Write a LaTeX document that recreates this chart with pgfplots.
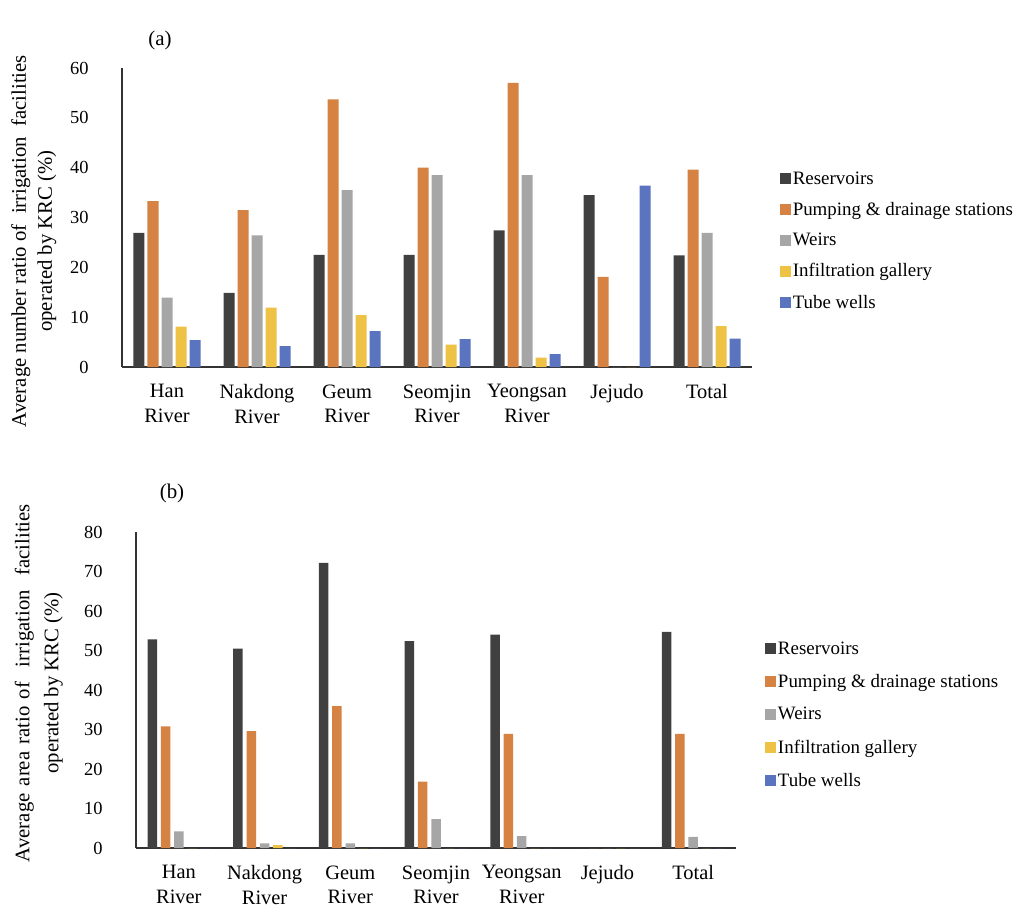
\documentclass[border=0pt]{standalone}
\usepackage{fontspec}
\setmainfont{Liberation Serif}
\usepackage{pgfplots}
\pgfplotsset{compat=1.18}
\definecolor{cRes}{RGB}{64,64,64}
\definecolor{cPump}{RGB}{213,130,66}
\definecolor{cWeir}{RGB}{166,166,166}
\definecolor{cInf}{RGB}{237,194,69}
\definecolor{cTube}{RGB}{91,116,191}
\pgfplotsset{
 myaxis/.style={
  scale only axis,
  axis x line*=bottom, axis y line*=left,
  axis line style={line width=1.4bp, black!80},
  xmin=-0.5, xmax=6.5, ymin=0,
  xtick={0,...,6},
  xticklabels={{Han\\River},{Nakdong\\River},{Geum\\River},{Seomjin\\River},{Yeongsan\\River},{Jejudo},{Total}},
  xticklabel style={align=center, font=\fontsize{20.5}{24.5}\selectfont, anchor=north, yshift=-14bp},
  yticklabel style={font=\fontsize{18.5}{22}\selectfont, anchor=east, xshift=-30bp},
  major tick length=0pt,
  /pgf/number format/assume math mode=true,
  legend style={draw=none, fill=none, font=\fontsize{19}{22}\selectfont, anchor=west, legend cell align=left},
  legend image code/.code={\fill[##1, draw=none] (0bp,-5.5bp) rectangle (11bp,5.5bp);},
  every axis plot/.append style={draw=none},
  ylabel style={align=center, anchor=center},
 }
}
\pgfplotstableread{
x Res Pump Weir Inf Tube
0 26.9 33.3 13.9 8.1 5.4
1 14.9 31.5 26.4 11.9 4.2
2 22.5 53.7 35.5 10.4 7.2
3 22.5 40.0 38.5 4.5 5.6
4 27.4 57.0 38.5 1.9 2.6
5 34.5 18.1 0 0 36.4
6 22.4 39.6 26.9 8.2 5.7
}\tabA
\pgfplotstableread{
x Res Pump Weir Inf Tube
0 52.8 30.8 4.2 0 0
1 50.5 29.6 1.2 0.7 0
2 72.2 35.9 1.2 0 0
3 52.4 16.8 7.3 0 0
4 54.0 28.9 3.0 0 0
5 0 0 0 0 0
6 54.7 28.9 2.8 0 0
}\tabB
\begin{document}
\begin{tikzpicture}
\path[use as bounding box] (0,0) rectangle (1028bp,-919bp);
\node[font=\fontsize{21}{24}\selectfont] at (160bp,-40bp) {(a)};
\node[font=\fontsize{21}{24}\selectfont] at (172bp,-493bp) {(b)};
\begin{axis}[ybar=3bp, bar width=11bp, myaxis,
  at={(122bp,-367bp)}, anchor=south west,
  width=630bp, height=299bp, ymax=60, ytick={0,10,...,60},
  ylabel={Average number ratio of\ \ irrigation\ \ facilities\\operated by KRC (\%)},
  ylabel style={font=\fontsize{20.8}{26}\selectfont, at={(rel axis cs:-0.140,0.421)}},
  legend style={at={(rel axis cs:1.039,0.423)}, row sep=12.5bp},
]
\addplot[fill=cRes] table[x=x,y=Res] {\tabA};
\addplot[fill=cPump] table[x=x,y=Pump] {\tabA};
\addplot[fill=cWeir] table[x=x,y=Weir] {\tabA};
\addplot[fill=cInf] table[x=x,y=Inf] {\tabA};
\addplot[fill=cTube] table[x=x,y=Tube] {\tabA};
\legend{Reservoirs, Pumping \& drainage stations, Weirs, Infiltration gallery, Tube wells}
\end{axis}
\begin{axis}[ybar=3.8bp, bar width=9.5bp, myaxis,
  at={(136bp,-848bp)}, anchor=south west,
  width=600bp, height=316bp, ymax=80, ytick={0,10,...,80},
  ylabel={\makebox[358bp][s]{Average area ratio of\ \ irrigation\ \ facilities}\\operated by KRC (\%)},
  ylabel style={font=\fontsize{20.8}{29}\selectfont, at={(rel axis cs:-0.162,0.522)}},
  legend style={at={(rel axis cs:1.043,0.422)}, row sep=14.5bp},
]
\addplot[fill=cRes] table[x=x,y=Res] {\tabB};
\addplot[fill=cPump] table[x=x,y=Pump] {\tabB};
\addplot[fill=cWeir] table[x=x,y=Weir] {\tabB};
\addplot[fill=cInf] table[x=x,y=Inf] {\tabB};
\addplot[fill=cTube] table[x=x,y=Tube] {\tabB};
\legend{Reservoirs, Pumping \& drainage stations, Weirs, Infiltration gallery, Tube wells}
\end{axis}
\end{tikzpicture}
\end{document}
